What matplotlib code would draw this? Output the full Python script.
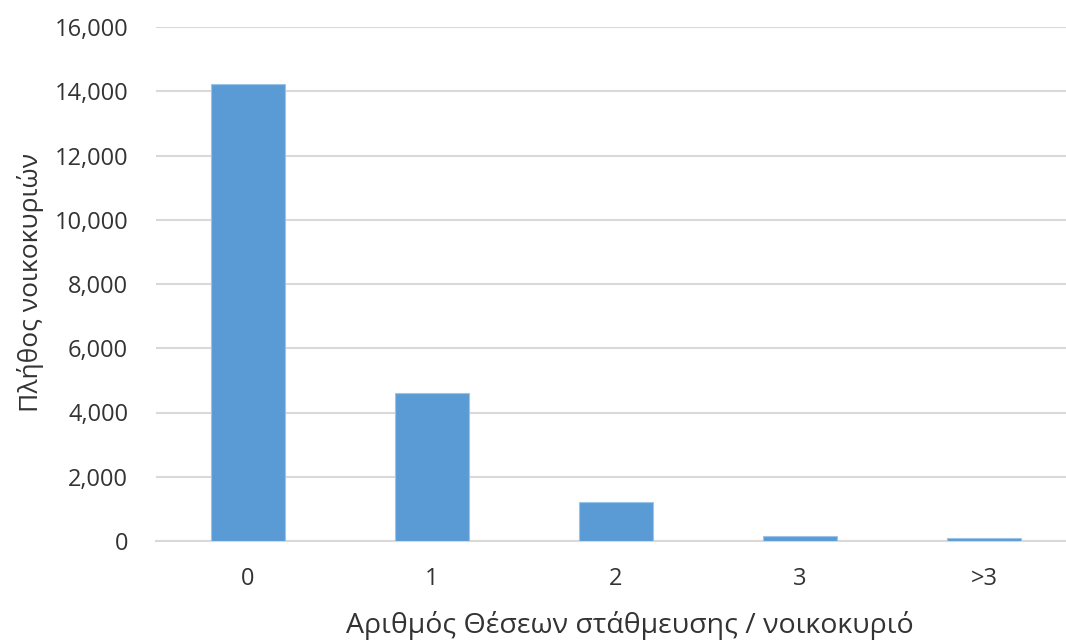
import matplotlib
matplotlib.use("Agg")
import matplotlib.pyplot as plt
from matplotlib.ticker import FuncFormatter

categories = ["0", "1", "2", "3", ">3"]
households = [14230, 4615, 1205, 165, 85]
y_ticks = [0, 2000, 4000, 6000, 8000, 10000, 12000, 14000, 16000]

plt.rcParams['font.family'] = ['Open Sans', 'DejaVu Sans']
text_color = "#333333"

fig = plt.figure(figsize=(10.66, 6.41), dpi=100)
W, H = 1066, 641
left, right, bottom_px, top_px = 156, 1076, 541, 27
ax = fig.add_axes([left / W, (H - bottom_px) / H, (right - left) / W, (bottom_px - top_px) / H])

x = list(range(len(categories)))
ax.bar(x, households, width=0.4, color="#5b9bd5", edgecolor="#9dc3e6", linewidth=0.8, zorder=3)

ax.set_xlim(-0.5, len(categories) - 0.5)
ax.set_ylim(0, 16000)
ax.set_yticks(y_ticks)
ax.yaxis.set_major_formatter(FuncFormatter(lambda v, p: f"{int(v):,}"))
ax.set_xticks(x)
ax.set_xticklabels(categories)

ax.grid(axis="y", color="#d9d9d9", linewidth=1.5, zorder=0)
ax.set_axisbelow(True)
for s in ["top", "right", "left"]:
    ax.spines[s].set_visible(False)
ax.spines["bottom"].set_color("#d9d9d9")
ax.spines["bottom"].set_linewidth(1.5)
ax.tick_params(axis="both", length=0, labelsize=17, colors=text_color)
ax.tick_params(axis="y", pad=20)
ax.tick_params(axis="x", pad=19)

ax.set_ylabel("Πλήθος νοικοκυριών", fontsize=19, color=text_color)
ax.set_xlabel("Αριθμός Θέσεων στάθμευσης / νοικοκυριό", fontsize=20.5, color=text_color)
ax.xaxis.set_label_coords((630 - left) / (right - left), -(611 - bottom_px) / (bottom_px - top_px))
ax.yaxis.set_label_coords(-(left - 44) / (right - left), (bottom_px - 282) / (bottom_px - top_px))

fig.savefig("out.png", dpi=100)
